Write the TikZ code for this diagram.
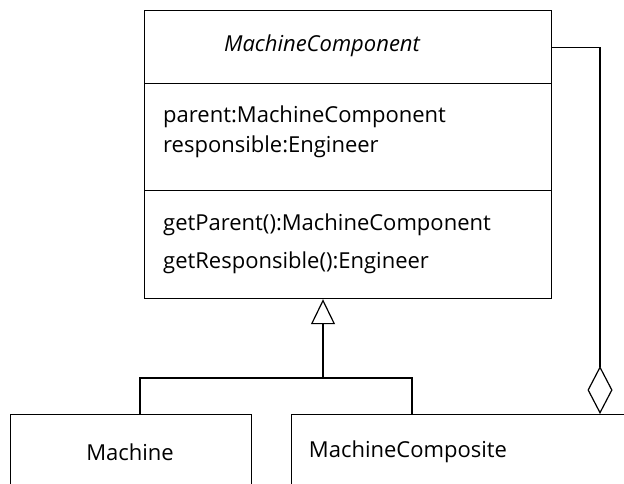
\documentclass[tikz,border=0pt]{standalone}
\usepackage{fontspec}
\setmainfont{Open Sans}
\usetikzlibrary{positioning,arrows.meta}

\tikzset{
  compartment/.style={draw, line width=1.2pt, anchor=north west, inner sep=0pt},
  member/.style={anchor=west, inner sep=0pt, font=\fontsize{22}{24}\selectfont},
  classname/.style={inner sep=0pt, font=\fontsize{22}{24}\selectfont},
  link/.style={line width=1.2pt}
}

\begin{document}
\begin{tikzpicture}[x=1pt, y=-1pt]
    \useasboundingbox (0,0) rectangle (624,483);
    \clip (0,0) rectangle (624,483);

    % Clase abstracta
    \node[compartment, minimum width=407pt, minimum height=73pt] (head) at (144,10) {};
    \node[compartment, minimum width=407pt, minimum height=107pt] (attrs) at (144,83) {};
    \node[compartment, minimum width=407pt, minimum height=108pt] (ops) at (144,190) {};
    \node[classname, font=\fontsize{22}{24}\selectfont\itshape] (title) at (322,46) {MachineComponent};
    \node[member] (parent) at (163,117) {parent:MachineComponent};
    \node[member] (resp) at (163,147) {responsible:Engineer};
    \node[member] (getp) at (163,225) {getParent():MachineComponent};
    \node[member] (getr) at (163,263) {getResponsible():Engineer};

    % Subclases
    \node[compartment, minimum width=241pt, minimum height=100pt] (machine) at (10,414) {};
    \node[compartment, minimum width=370pt, minimum height=100pt] (comp) at (291,414) {};
    \node[classname] (mlabel) at (130,452) {Machine};
    \node[classname] (clabel) at (408,452) {MachineComposite};

    % Herencia
    \coordinate (gen) at (323,378);
    \coordinate (jm) at (140,414);
    \coordinate (jc) at (412,414);
    \draw[link, -{Triangle[open, length=25pt, width=24pt]}] (gen) -- (ops.south -| gen);
    \draw[link] (jm) |- (gen) -| (jc);

    % Agregacion
    \coordinate (agg) at (600,414);
    \draw[link, {Diamond[open, length=48pt, width=25pt]}-] (agg) |- (head.east);
\end{tikzpicture}
\end{document}
